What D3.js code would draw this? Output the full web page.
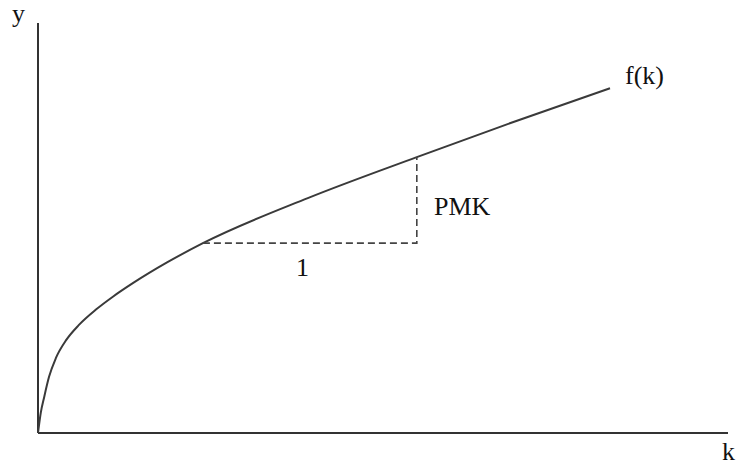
<!DOCTYPE html>
<html>
<head>
<meta charset="utf-8">
<script src="https://cdn.jsdelivr.net/npm/d3@7/dist/d3.min.js"></script>
<style>
  html, body { margin: 0; padding: 0; background: #fff; }
  svg { display: block; }
  text { font-family: "Liberation Serif", "Times New Roman", serif; fill: #111; }
</style>
</head>
<body>
<script>
// Production function f(k): capital per worker vs. output per worker
const kValues = [0, 0.04, 0.09, 0.16, 0.26, 0.41, 0.59, 0.84, 1.09, 1.38, 1.87, 2.39, 3.91, 5.49, 6.88, 8.29];
const yValues = [0, 0.49, 0.88, 1.37, 1.83, 2.27, 2.63, 3.01, 3.33, 3.66, 4.16, 4.63, 5.73, 6.73, 7.58, 8.41];

// Slope triangle: one unit of k, PMK rise in y
const triangleStart = { k: 2.39, y: 4.63 };
const triangleEnd = { k: 5.49, y: 6.73 };

const axisLabels = { x: "k", y: "y" };
const curveLabel = "f(k)";
const runLabel = "1";
const riseLabel = "PMK";

const width = 736, height = 465;
const margin = { left: 38, right: 8, top: 23, bottom: 32 };

const x = d3.scaleLinear().domain([0, 10]).range([margin.left, width - margin.right]);
const y = d3.scaleLinear().domain([0, 10]).range([height - margin.bottom, margin.top]);

const svg = d3.select("body").append("svg")
  .attr("width", width)
  .attr("height", height);

// Axes (plain lines, no ticks)
svg.append("line")
  .attr("x1", x(0)).attr("y1", y(0))
  .attr("x2", x(0)).attr("y2", y(10))
  .attr("stroke", "#333").attr("stroke-width", 2);
svg.append("line")
  .attr("x1", x(0)).attr("y1", y(0))
  .attr("x2", x(10)).attr("y2", y(0))
  .attr("stroke", "#333").attr("stroke-width", 2);

// The curve
const points = kValues.map((k, i) => [k, yValues[i]]);
const line = d3.line()
  .x(d => x(d[0]))
  .y(d => y(d[1]))
  .curve(d3.curveMonotoneX);
svg.append("path")
  .datum(points)
  .attr("d", line)
  .attr("fill", "none")
  .attr("stroke", "#3a3a3a")
  .attr("stroke-width", 2);

// Dashed slope triangle
svg.append("path")
  .attr("d", `M${x(triangleStart.k)},${y(triangleStart.y)}` +
             `H${x(triangleEnd.k)}` +
             `V${y(triangleEnd.y)}`)
  .attr("fill", "none")
  .attr("stroke", "#444")
  .attr("stroke-width", 1.6)
  .attr("stroke-dasharray", "7,4");

// Labels
const fontSize = 26;
svg.append("text").attr("x", 12).attr("y", 22)
  .attr("font-size", fontSize).text(axisLabels.y);
svg.append("text").attr("x", 722).attr("y", 460)
  .attr("font-size", fontSize).text(axisLabels.x);
svg.append("text").attr("x", 625).attr("y", 84)
  .attr("font-size", fontSize).text(curveLabel);
svg.append("text").attr("x", 434).attr("y", 215)
  .attr("font-size", fontSize).text(riseLabel);
svg.append("text").attr("x", 296).attr("y", 276)
  .attr("font-size", fontSize).text(runLabel);
</script>
</body>
</html>
